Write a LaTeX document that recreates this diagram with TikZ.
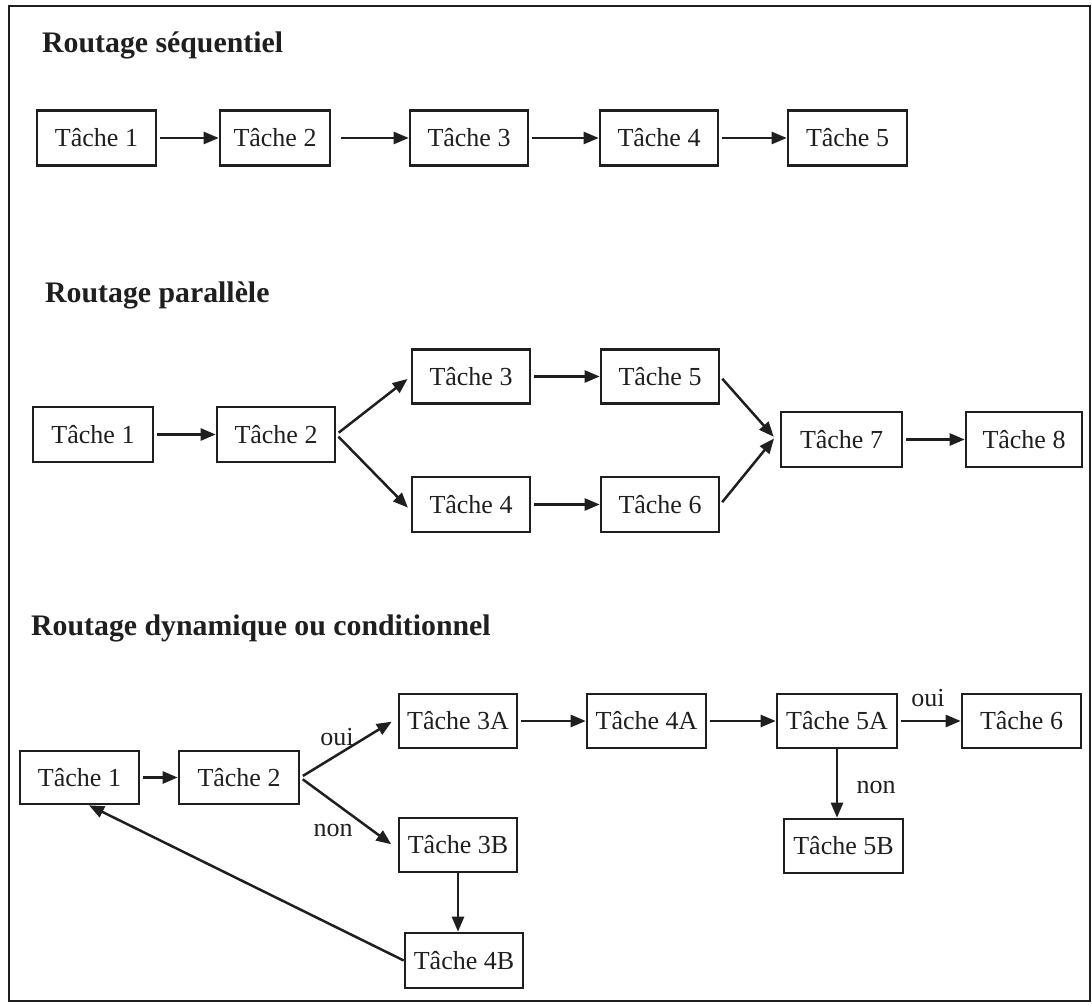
\documentclass[tikz,border=0pt]{standalone}
\usepackage{fontspec}
\setmainfont{Liberation Serif}
\usetikzlibrary{arrows.meta}
\definecolor{ink}{gray}{0.12}
\begin{document}
\begin{tikzpicture}[x=1pt,y=-1pt,
  task/.style={draw=ink, line width=2.6pt, minimum width=118pt, minimum height=55pt,
    inner sep=0pt, text=ink, font=\fontsize{26}{30}\selectfont},
  flow/.style={draw=ink, line width=2.5pt, -{Triangle[length=15pt,width=12pt]}, shorten <=3pt},
  heading/.style={anchor=base west, inner sep=0pt, text=ink, font=\fontsize{29.8}{34}\selectfont\bfseries},
  cond/.style={inner sep=0pt, text=ink, font=\fontsize{26}{30}\selectfont},
  frame/.style={draw=ink, line width=2.6pt}]

\useasboundingbox (0,0) rectangle (1092,1006);
\draw[frame] (9,6) rectangle (1090,1001);

% Sequential routing
\node[heading] (h1) at (42,53) {Routage séquentiel};
\node[task, minimum width=119pt] (s1) at (96.5,138) {Tâche 1};
\node[task, minimum width=110pt] (s2) at (275,138) {Tâche 2};
\node[task] (s3) at (469,138) {Tâche 3};
\node[task] (s4) at (659,138) {Tâche 4};
\node[task, minimum width=119pt] (s5) at (847.5,138) {Tâche 5};
\draw[flow] (s1) -- (s2);
\draw[flow, shorten <=10pt] (s2) -- (s3);
\draw[flow] (s3) -- (s4);
\draw[flow] (s4) -- (s5);

% Parallel routing
\node[heading] (h2) at (45,302) {Routage parallèle};
\node[task, minimum width=120pt] (p1) at (93,434.5) {Tâche 1};
\node[task] (p2) at (276,434.5) {Tâche 2};
\node[task, minimum height=54pt] (p3) at (471,376.5) {Tâche 3};
\node[task] (p4) at (471,504.5) {Tâche 4};
\node[task, minimum height=54pt] (p5) at (660,376.5) {Tâche 5};
\node[task] (p6) at (660,504.5) {Tâche 6};
\node[task, minimum width=121pt] (p7) at (841.5,439.5) {Tâche 7};
\node[task, minimum width=116pt] (p8) at (1024,439.5) {Tâche 8};
\draw[flow] (p1) -- (p2);
\draw[flow, shorten >=4pt] (p2.east) -- (p3.west);
\draw[flow, shorten >=4pt] (p2.east) -- ([yshift=-6pt]p4.west);
\draw[flow] (p3) -- (p5);
\draw[flow] (p4) -- (p6);
\draw[flow, shorten >=9pt] (p5.east) -- ([yshift=-4pt]p7.west);
\draw[flow, shorten >=9pt] (p6.east) -- ([yshift=8pt]p7.west);
\draw[flow] (p7) -- (p8);

% Dynamic or conditional routing
\node[heading] (h3) at (31,635) {Routage dynamique ou conditionnel};
\node[task, minimum width=119pt, minimum height=53pt] (d1) at (79.5,777.5) {Tâche 1};
\node[task, minimum width=120pt, minimum height=53pt] (d2) at (239,777.5) {Tâche 2};
\node[task, minimum height=54pt] (d3a) at (458,721) {Tâche 3A};
\node[task, minimum height=54pt] (d3b) at (458,845) {Tâche 3B};
\node[task] (d4b) at (464,960.5) {Tâche 4B};
\node[task, minimum width=119pt, minimum height=54pt] (d4a) at (646.5,721) {Tâche 4A};
\node[task, minimum width=120pt, minimum height=54pt] (d5a) at (837,721) {Tâche 5A};
\node[task, minimum width=119pt, minimum height=54pt] (d6) at (1021.5,721) {Tâche 6};
\node[task, minimum width=119pt, minimum height=54pt] (d5b) at (843.5,846) {Tâche 5B};

\node[cond] (yes1) at (337,737) {oui};
\node[cond] (no1) at (333,830) {non};
\node[cond] (yes2) at (928,698) {oui};
\node[cond] (no2) at (876,787) {non};

\draw[flow] (d1) -- (d2);
\draw[flow, shorten >=7pt] (d2.east) -- ([yshift=3pt]d3a.west);
\draw[flow, shorten >=8pt] (d2.east) -- ([yshift=-4pt]d3b.west);
\draw[flow] (d3a) -- (d4a);
\draw[flow] (d4a) -- (d5a);
\draw[flow] (d5a) -- (d6);
\draw[flow, shorten <=0pt] (d3b.south) -- (d3b.south |- d4b.north);
\draw[flow, shorten <=0pt] (d5a.south) -- (d5a.south |- d5b.north);
\draw[flow, shorten <=0pt] (d4b.west) -- ([xshift=9.5pt]d1.south);

\end{tikzpicture}
\end{document}
